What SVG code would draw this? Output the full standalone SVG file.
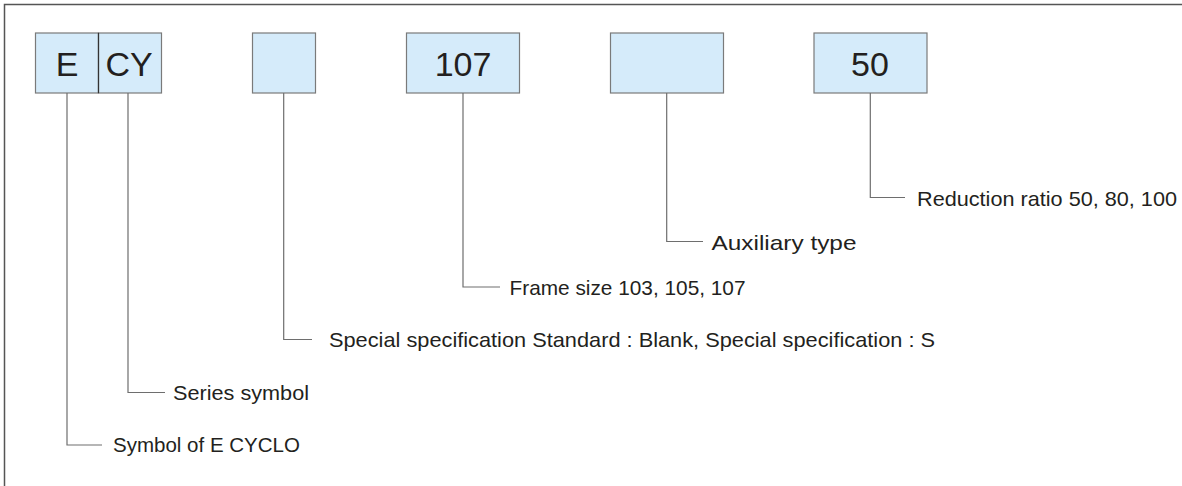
<svg xmlns="http://www.w3.org/2000/svg" width="1182" height="486" viewBox="0 0 1182 486">
<style>
.bx{fill:#d5ebfa;stroke:#7a7a7a;stroke-width:1.2}
.bt{font-family:"Liberation Sans",Arial,sans-serif;font-size:34px;fill:#231f20;text-anchor:middle}
.lb{font-family:"Liberation Sans",Arial,sans-serif;font-size:21px;fill:#231f20}
.cn{fill:none;stroke:#6e6e6e;stroke-width:1.2}
</style>
<rect x="0" y="0" width="1182" height="486" fill="#ffffff"/>
<rect id="frame" x="4.5" y="4.5" width="1200" height="500" fill="none" stroke="#555555" stroke-width="1.5"/>
<g id="node-E"><rect class="bx" x="35.5" y="33" width="63" height="60"/><text class="bt" x="67" y="76">E</text></g>
<g id="node-CY"><rect class="bx" x="98.5" y="33" width="63" height="60"/><line x1="98.5" y1="33" x2="98.5" y2="93" stroke="#333" stroke-width="1.2"/><text class="bt" x="129" y="76">CY</text></g>
<g id="node-special"><rect class="bx" x="252.5" y="33" width="63" height="60"/></g>
<g id="node-107"><rect class="bx" x="406.5" y="33" width="113" height="60"/><text class="bt" x="463" y="76">107</text></g>
<g id="node-aux"><rect class="bx" x="610.5" y="33" width="113" height="60"/></g>
<g id="node-50"><rect class="bx" x="814" y="33" width="113" height="60"/><text class="bt" x="870" y="76">50</text></g>
<g id="connectors">
<polyline class="cn" points="67,93 67,445 102,445"/>
<polyline class="cn" points="128,93 128,392.5 165,392.5"/>
<polyline class="cn" points="283.7,93 283.7,339.5 312,339.5"/>
<polyline class="cn" points="463,93 463,287 500,287"/>
<polyline class="cn" points="666.7,93 666.7,241.5 703,241.5"/>
<polyline class="cn" points="870.3,93 870.3,197.5 905,197.5"/>
</g>
<g id="labels">
<text id="lbl-symbol" class="lb" x="113" y="452" textLength="187" lengthAdjust="spacingAndGlyphs">Symbol of E CYCLO</text>
<text id="lbl-series" class="lb" x="173" y="400" textLength="136" lengthAdjust="spacingAndGlyphs">Series symbol</text>
<text id="lbl-special" class="lb" x="329" y="347" textLength="606" lengthAdjust="spacingAndGlyphs">Special specification Standard : Blank, Special specification : S</text>
<text id="lbl-frame" class="lb" x="509.5" y="295" textLength="236" lengthAdjust="spacingAndGlyphs">Frame size 103, 105, 107</text>
<text id="lbl-aux" class="lb" x="711.5" y="249.5" textLength="145" lengthAdjust="spacingAndGlyphs">Auxiliary type</text>
<text id="lbl-ratio" class="lb" x="917" y="205.5" textLength="260" lengthAdjust="spacingAndGlyphs">Reduction ratio 50, 80, 100</text>
</g>
</svg>
